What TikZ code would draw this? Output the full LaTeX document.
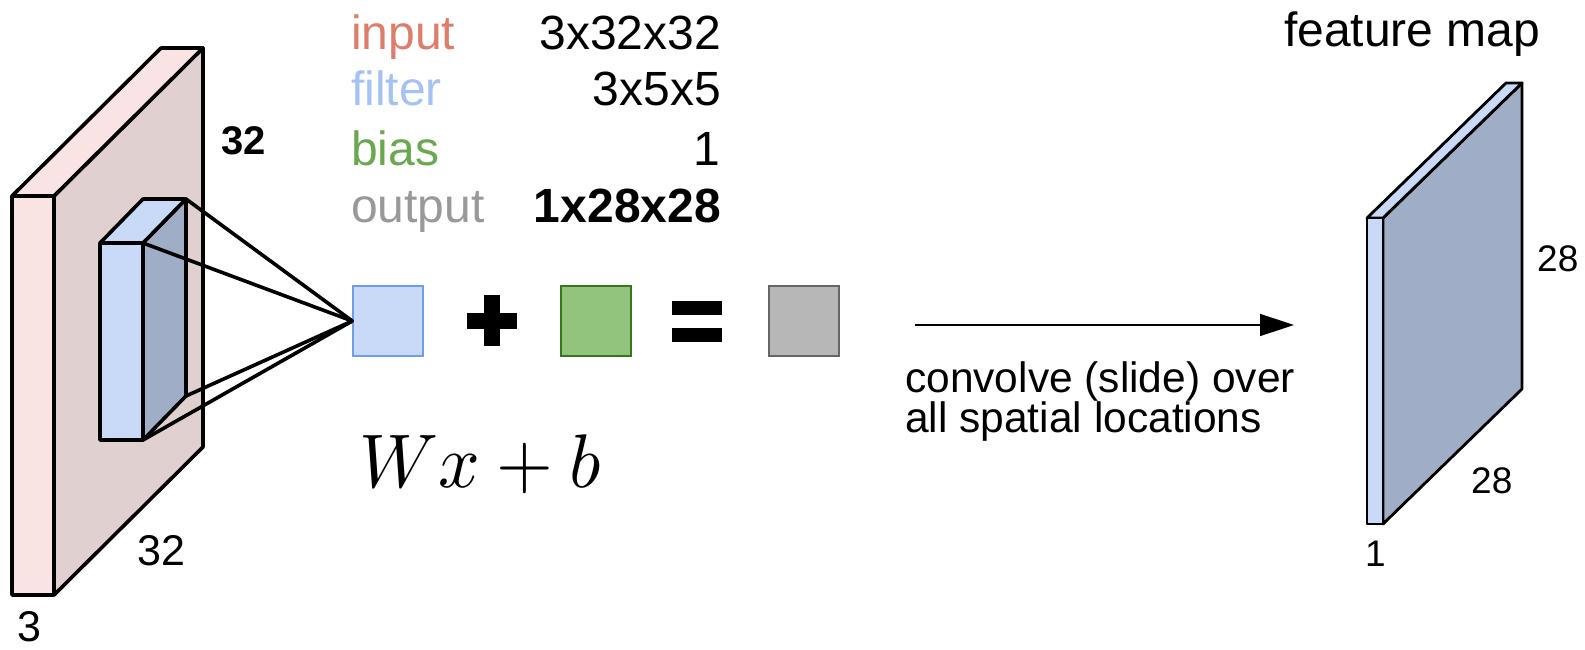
\documentclass[tikz,border=0pt]{standalone}
\usepackage{fontspec}
\newfontfamily\arial{Liberation Sans}
\usetikzlibrary{arrows.meta}
\definecolor{inpink}{HTML}{F9E3E3}
\definecolor{inpinkside}{HTML}{E0D0D0}
\definecolor{fltfront}{HTML}{C9DAF8}
\definecolor{fltside}{HTML}{9FAEC6}
\definecolor{txtred}{HTML}{DD7E6B}
\definecolor{txtblue}{HTML}{A4C2F4}
\definecolor{txtgreen}{HTML}{6AA84F}
\definecolor{txtgray}{HTML}{999999}
\definecolor{sqblue}{HTML}{C9DAF8}
\definecolor{sqblueline}{HTML}{6D9EEB}
\definecolor{sqgreen}{HTML}{93C47D}
\definecolor{sqgreenline}{HTML}{38761D}
\definecolor{sqgray}{HTML}{B7B7B7}
\definecolor{sqgrayline}{HTML}{666666}
\tikzset{
  face/.style={draw=black, line width=3.6pt, line join=round},
  thinface/.style={draw=black, line width=2.8pt, line join=round},
  bigtxt/.style={font=\arial\fontsize{48}{48}\selectfont, inner sep=0pt},
  dimlbl/.style={font=\arial\fontsize{43}{43}\selectfont, inner sep=0pt},
  smalldim/.style={font=\arial\fontsize{37}{37}\selectfont, inner sep=0pt},
  captxt/.style={font=\arial\fontsize{42.5}{42.5}\selectfont, inner sep=0pt},
  opsq/.style={rectangle, minimum size=70pt, inner sep=0pt, line width=1.5pt},
  ray/.style={line width=3.6pt, line cap=round}
}
\begin{document}
\begin{tikzpicture}[x=1pt,y=-1pt]
\useasboundingbox (0,0) rectangle (1585,650);

% input volume 3x32x32
\filldraw[face, fill=inpinkside] (54,196) -- (203,48) -- (203,447) -- (54,595) -- cycle;
\filldraw[face, fill=inpink] (12,196) -- (54,196) -- (203,48) -- (161,48) -- cycle;
\filldraw[face, fill=inpink] (12,196) rectangle (54,595);

% filter block inside the input
\filldraw[face, fill=fltside] (143,243) -- (186,199) -- (186,396) -- (143,440) -- cycle;
\filldraw[face, fill=fltfront] (100,243) -- (143,243) -- (186,199) -- (143,199) -- cycle;
\filldraw[face, fill=fltfront] (100,243) rectangle (143,440);
\coordinate (fbt) at (186,199);
\coordinate (fft) at (143,243);
\coordinate (fbb) at (186,396);
\coordinate (ffb) at (143,440);

% dimension labels of the input
\node[dimlbl, font=\arial\bfseries\fontsize{40}{40}\selectfont, anchor=base west] (lh) at (221,155) {32};
\node[dimlbl, anchor=base west] (lw) at (137,565) {32};
\node[dimlbl, anchor=base west] (ld) at (17,641) {3};

% sizes table
\node[bigtxt, anchor=base west, text=txtred] (tin) at (351,50) {input};
\node[bigtxt, anchor=base west, text=txtblue] (tfl) at (351,106) {filter};
\node[bigtxt, anchor=base west, text=txtgreen] (tbi) at (351,165) {bias};
\node[bigtxt, anchor=base west, text=txtgray] (tou) at (351,222) {output};
\node[bigtxt, anchor=base east] (vin) at (721,50) {3x32x32};
\node[bigtxt, anchor=base east] (vfl) at (721,106) {3x5x5};
\node[bigtxt, anchor=base east] (vbi) at (720,165) {1};
\node[bigtxt, anchor=base east, font=\arial\bfseries\fontsize{48}{48}\selectfont] (vou) at (721,222) {1x28x28};

% filter response + bias = output
\node[opsq, fill=sqblue, draw=sqblueline] (wsq) at (388,321) {};
\node[opsq, fill=sqgreen, draw=sqgreenline] (bsq) at (596,321) {};
\node[opsq, fill=sqgray, draw=sqgrayline] (osq) at (804,321) {};
\fill (466.7,313) rectangle (516.7,329);
\fill (483.7,295) rectangle (500,346);
\fill (671.7,301) rectangle (722.3,315);
\fill (671.7,327.7) rectangle (722.3,341.7);

% rays from the filter corners
\draw[ray] (fbt) -- (wsq.west);
\draw[ray] (fft) -- (wsq.west);
\draw[ray] (fbb) -- (wsq.west);
\draw[ray] (ffb) -- (wsq.west);

% formula
\node[inner sep=0pt, anchor=base west, xscale=7.3, yscale=7.6] (eq) at (358,487) {$Wx+b$};

% sliding arrow and caption
\coordinate (as) at (915,325);
\coordinate (ae) at (1294,325);
\draw[line width=1.5pt, -{Triangle[length=34pt,width=22pt]}] (as) -- (ae);
\node[captxt, anchor=base west] (cap1) at (905,392) {convolve (slide) over};
\node[captxt, anchor=base west] (cap2) at (905,432) {all spatial locations};

% feature map 1x28x28
\node[bigtxt, anchor=base west] (fmt) at (1284,47) {feature map};
\filldraw[thinface, fill=fltside] (1383,218) -- (1522,83) -- (1522,389) -- (1383,524) -- cycle;
\filldraw[thinface, fill=fltfront] (1367,218) -- (1383,218) -- (1522,83) -- (1506,83) -- cycle;
\filldraw[thinface, fill=fltfront] (1367,218) rectangle (1383,524);
\node[smalldim, anchor=base west] (fh) at (1537,271) {28};
\node[smalldim, anchor=base west] (fw) at (1471,493) {28};
\node[smalldim, anchor=base west] (fd) at (1365,566) {1};
\end{tikzpicture}
\end{document}
